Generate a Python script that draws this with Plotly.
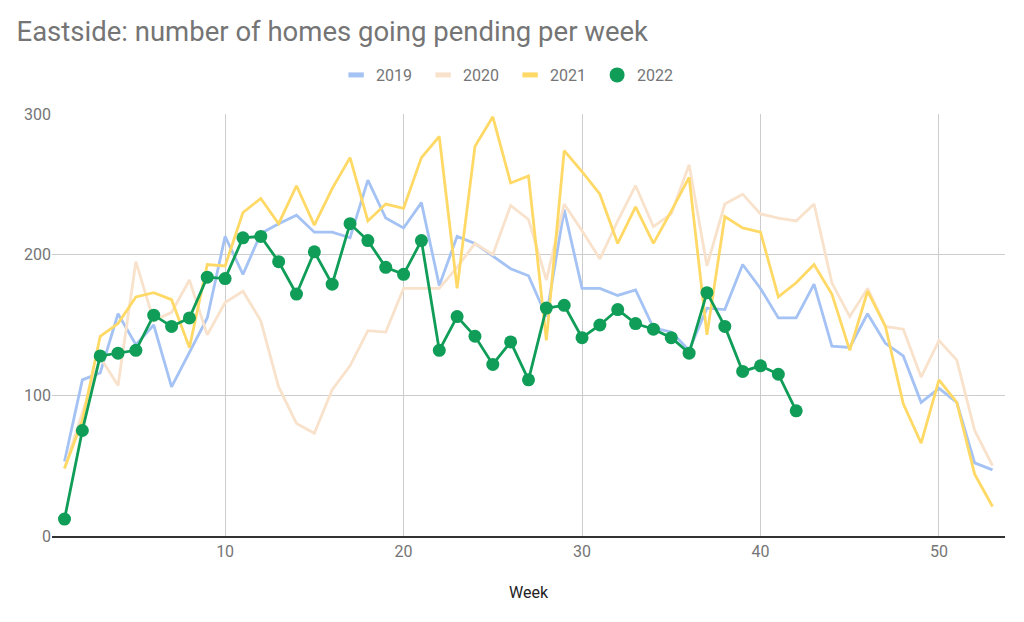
import plotly.graph_objects as go

weeks = list(range(1, 54))

y2019 = [53, 111, 116, 158, 136, 150, 106, 131, 155, 213, 186, 215, 222, 228, 216, 216, 212, 253, 226, 219,
         237, 178, 213, 208, 199, 190, 185, 156, 232, 176, 176, 171, 175, 148, 145, 132, 162, 161, 193, 176,
         155, 155, 179, 135, 134, 158, 137, 128, 95, 105, 95, 52, 47]
y2020 = [48, 88, 127, 107, 195, 153, 159, 182, 143, 166, 174, 153, 106, 80, 73, 104, 121, 146, 145, 176,
         176, 176, 191, 208, 200, 235, 225, 182, 236, 217, 197, 224, 249, 220, 229, 264, 192, 236, 243, 229,
         226, 224, 236, 180, 156, 176, 149, 147, 113, 139, 125, 75, 50]
y2021 = [48, 82, 142, 151, 170, 173, 168, 134, 193, 192, 230, 240, 222, 249, 221, 247, 269, 224, 236, 233,
         269, 284, 176, 277, 298, 251, 256, 139, 274, 259, 243, 208, 234, 208, 231, 255, 143, 227, 219, 216,
         170, 180, 193, 172, 132, 174, 149, 94, 66, 111, 95, 44, 21]
weeks2022 = list(range(1, 43))
y2022 = [12, 75, 128, 130, 132, 157, 149, 155, 184, 183, 212, 213, 195, 172, 202, 179, 222, 210, 191, 186,
         210, 132, 156, 142, 122, 138, 111, 162, 164, 141, 150, 161, 151, 147, 141, 130, 173, 149, 117, 121,
         115, 89]

names = ["2019", "2020", "2021", "2022"]
colors = ["#a4c2f4", "#f9e2cb", "#ffd966", "#0f9d58"]

fig = go.Figure()
for name, ys, col in zip(names[:3], [y2019, y2020, y2021], colors[:3]):
    fig.add_trace(go.Scatter(x=weeks, y=ys, mode="lines", name=name, showlegend=False,
                             line=dict(color=col, width=2.8), hoverinfo="skip"))
fig.add_trace(go.Scatter(x=weeks2022, y=y2022, mode="lines+markers", name="2022", showlegend=False,
                         line=dict(color=colors[3], width=2.8),
                         marker=dict(color=colors[3], size=13)))

# legend entries
for name, col in zip(names[:3], colors[:3]):
    fig.add_trace(go.Scatter(x=[None], y=[None], mode="markers", name=name,
                             marker=dict(symbol="line-ew", size=11, color=col,
                                         line=dict(color=col, width=5))))
fig.add_trace(go.Scatter(x=[None], y=[None], mode="markers", name="2022",
                         marker=dict(symbol="circle", size=15, color=colors[3])))

fig.update_layout(
    width=1016, height=614,
    paper_bgcolor="white", plot_bgcolor="white",
    font=dict(family="Roboto", color="#757575", size=16),
    title=dict(text="Eastside: number of homes going pending per week", x=0.0084, xanchor="left",
               y=0.9625, yanchor="middle", font=dict(family="Roboto", size=27.5, color="#757575")),
    margin=dict(l=44, r=19, t=106, b=86),
    legend=dict(orientation="h", x=0.4807, xanchor="center", y=1.0924, yanchor="middle",
                font=dict(size=16, color="#757575"), itemwidth=30, entrywidth=42),
    xaxis=dict(range=[0.3, 53.7], tickvals=[10, 20, 30, 40, 50], showgrid=True, gridcolor="#cccccc",
               gridwidth=1, zeroline=False, showline=True, linecolor="#333333", linewidth=1.5,
               ticks="", ticklen=0, tickfont=dict(size=16, color="#757575"),
               title=dict(text="Week", font=dict(size=16, color="#222222"), standoff=27)),
    yaxis=dict(range=[0, 300], tickvals=[0, 100, 200, 300], showgrid=True, gridcolor="#cccccc",
               gridwidth=1, zeroline=False, ticks="", tickfont=dict(size=16, color="#757575")),
)

fig.write_html("out.html")
